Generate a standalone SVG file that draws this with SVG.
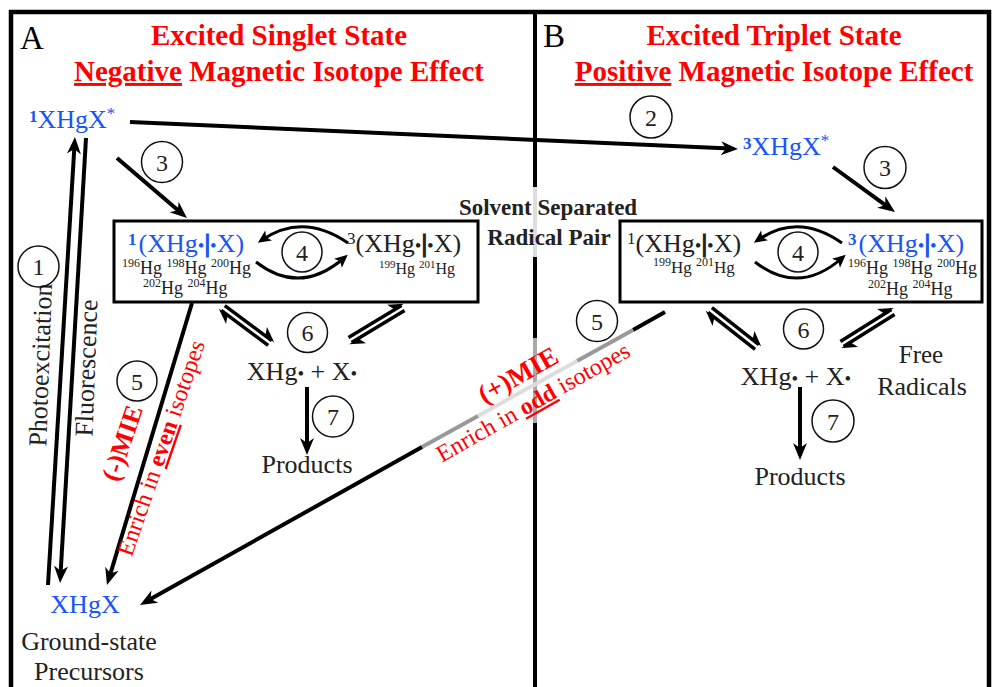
<svg xmlns="http://www.w3.org/2000/svg" width="992" height="687" viewBox="0 0 992 687">
<style>
.t{font-family:"Liberation Serif","Times New Roman",serif;fill:#222}
.k{fill:#000}
.red{fill:#f00}
.blue{fill:#1a55f5}
.b{font-weight:bold}
.u{text-decoration:underline}
.dot{font-size:19px}
.bar{font-weight:bold;stroke-width:1.1}
.ln{stroke:#000;stroke-width:4;fill:none}
.eq{stroke:#000;stroke-width:3.5;fill:none}
.arc{stroke:#000;stroke-width:3;fill:none}
.box{fill:none;stroke:#000;stroke-width:3}
.num circle{fill:none;stroke:#111;stroke-width:1.5}
.num text{font-family:"Liberation Serif","Times New Roman",serif;font-size:24px;fill:#222;text-anchor:middle}
</style>
<defs>
<marker id="ah" markerUnits="userSpaceOnUse" viewBox="-20 -10 30 20" markerWidth="30" markerHeight="20" refX="0" refY="0" orient="auto">
<path d="M8,0 L-9,-7 L-4,0 L-9,7 Z" fill="#000"/>
</marker>
<marker id="as" markerUnits="userSpaceOnUse" viewBox="-20 -10 30 20" markerWidth="30" markerHeight="20" refX="0" refY="0" orient="auto">
<path d="M5,0 L-8,-6 L-5,0 L-8,6 Z" fill="#000"/>
</marker>
<marker id="hh" markerUnits="userSpaceOnUse" viewBox="-20 -10 30 20" markerWidth="30" markerHeight="20" refX="0" refY="0" orient="auto">
<path d="M3,0 L-12,-8 L-8,0 Z" fill="#000"/>
</marker>
</defs>
<rect width="992" height="687" fill="#fff"/>

<g id="frame">
<path d="M11,687 L11,12 L989,12 L989,687" fill="none" stroke="#000" stroke-width="4.5"/>
<path d="M535,12 V187 M535,257 V338 M535,423 V687" stroke="#000" stroke-width="4" fill="none"/>
<path d="M535,187 V257" stroke="#ddd" stroke-width="4"/>
<path d="M535,338 V423" stroke="#aaa" stroke-width="4"/>
</g>

<g id="header-A">
<text class="t k" x="20" y="49" font-size="33">A</text>
<text class="t red b" x="279" y="45" font-size="29" text-anchor="middle">Excited Singlet State</text>
<text class="t red b" x="279" y="81" font-size="29" text-anchor="middle"><tspan class="u">Negative</tspan> Magnetic Isotope Effect</text>
</g>
<g id="header-B">
<text class="t k" x="543" y="47" font-size="33">B</text>
<text class="t red b" x="774" y="45" font-size="29" text-anchor="middle">Excited Triplet State</text>
<text class="t red b" x="774" y="81" font-size="29" text-anchor="middle"><tspan class="u">Positive</tspan> Magnetic Isotope Effect</text>
</g>

<g id="connectors">
<path class="ln" d="M130,122 L730,148.6" marker-end="url(#ah)"/>
<path class="ln" d="M117,158 L180.9,212.8" marker-end="url(#ah)"/>
<path class="ln" d="M833,167 L888.5,207.3" marker-end="url(#ah)"/>
<path class="ln" d="M48,585 L74.5,145" marker-end="url(#ah)"/>
<path class="ln" d="M86,138 L60.5,575" marker-end="url(#ah)"/>
<path class="ln" d="M192,303 L109.3,577.3" marker-end="url(#ah)"/>
<path class="ln" d="M665,312 L633,330"/>
<path d="M633,330 L577,361" stroke="#999" stroke-width="4"/>
<path d="M577,361 L478,416" stroke="#ddd" stroke-width="4"/>
<path d="M478,416 L422,447" stroke="#999" stroke-width="4"/>
<path class="ln" d="M422,447 L147,601" marker-end="url(#ah)"/>
<path class="ln" d="M307,387 L307,447" marker-end="url(#ah)"/>
<path class="ln" d="M800,387 L800,452" marker-end="url(#ah)"/>
<path class="arc" d="M348,243 Q303,212 262,240" marker-end="url(#as)"/>
<path class="arc" d="M256,262 Q300,296 344,258" marker-end="url(#as)"/>
<path class="arc" d="M842,243 Q798,212 758,240" marker-end="url(#as)"/>
<path class="arc" d="M755,262 Q799,296 842,258" marker-end="url(#as)"/>
<path class="eq" d="M224.8,305.6 L271.8,340.6" marker-end="url(#hh)"/>
<path class="eq" d="M268.2,345.4 L221.2,310.4" marker-end="url(#hh)"/>
<path class="eq" d="M404.6,310.6 L351.6,342.6" marker-end="url(#hh)"/>
<path class="eq" d="M348.5,337.4 L401.5,305.4" marker-end="url(#hh)"/>
<path class="eq" d="M711.9,307.6 L758.9,344.6" marker-end="url(#hh)"/>
<path class="eq" d="M755.1,349.4 L708.1,312.4" marker-end="url(#hh)"/>
<path class="eq" d="M894.6,314.5 L843.6,346.5" marker-end="url(#hh)"/>
<path class="eq" d="M840.4,341.5 L891.4,309.5" marker-end="url(#hh)"/>
</g>

<g id="edge-labels">
<text class="t" transform="translate(40,365) rotate(-88)" x="0" y="9" font-size="26" text-anchor="middle">Photoexcitation</text>
<text class="t" transform="translate(86,368) rotate(-88)" x="0" y="9" font-size="26" text-anchor="middle">Fluorescence</text>
<text class="t red b" transform="translate(122,443) rotate(-71)" x="0" y="9" font-size="26" text-anchor="middle">(-)MIE</text>
<text class="t red" transform="translate(161,448) rotate(-71)" x="0" y="8" font-size="24" text-anchor="middle">Enrich in <tspan class="b u">even</tspan> isotopes</text>
<text class="t red b" transform="translate(518,375) rotate(-29.5)" x="0" y="9" font-size="27" text-anchor="middle">(+)MIE</text>
<text class="t red" transform="translate(533,402) rotate(-29.5)" x="0" y="8" font-size="24" text-anchor="middle">Enrich in <tspan class="b u">odd</tspan> isotopes</text>
</g>

<g id="n-singlet-excited">
<text class="t blue" x="29" y="128" font-size="26"><tspan class="b" font-size="17" dy="-6">1</tspan><tspan dy="6">XHgX</tspan><tspan font-size="17" dy="-9">*</tspan></text>
</g>
<g id="n-triplet-excited">
<text class="t blue" x="743" y="155" font-size="26"><tspan class="b" font-size="17" dy="-6">3</tspan><tspan dy="6">XHgX</tspan><tspan font-size="17" dy="-9">*</tspan></text>
</g>
<g id="n-ground">
<text class="t blue" x="85" y="613" font-size="26" text-anchor="middle">XHgX</text>
<text class="t" x="89" y="650" font-size="26" text-anchor="middle">Ground-state</text>
<text class="t" x="89" y="680" font-size="26" text-anchor="middle">Precursors</text>
</g>

<g id="n-rp-left">
<rect class="box" x="114" y="221" width="364" height="81"/>
<text class="t blue" x="128" y="252" font-size="26"><tspan class="b" font-size="17" dy="-7">1</tspan><tspan dy="7" dx="2">(XHg</tspan><tspan class="dot">•</tspan><tspan class="bar" stroke="#1a55f5">|</tspan><tspan class="dot">•</tspan>X)</text>
<text class="t" x="122" y="274" font-size="18"><tspan font-size="12" dy="-7">196</tspan><tspan dy="7">Hg </tspan><tspan font-size="12" dy="-7">198</tspan><tspan dy="7">Hg </tspan><tspan font-size="12" dy="-7">200</tspan><tspan dy="7">Hg</tspan></text>
<text class="t" x="143" y="294" font-size="18"><tspan font-size="12" dy="-7">202</tspan><tspan dy="7">Hg </tspan><tspan font-size="12" dy="-7">204</tspan><tspan dy="7">Hg</tspan></text>
<text class="t" x="347" y="252" font-size="26"><tspan font-size="17" dy="-8">3</tspan><tspan dy="8">(XHg</tspan><tspan class="dot">•</tspan><tspan class="bar" stroke="#222">|</tspan><tspan class="dot">•</tspan>X)</text>
<text class="t" x="379" y="274" font-size="16"><tspan font-size="11" dy="-6">199</tspan><tspan dy="6">Hg </tspan><tspan font-size="11" dy="-6">201</tspan><tspan dy="6">Hg</tspan></text>
</g>

<g id="n-rp-right">
<rect class="box" x="620" y="221" width="362" height="81"/>
<text class="t" x="627" y="252" font-size="26"><tspan font-size="17" dy="-8">1</tspan><tspan dy="8">(XHg</tspan><tspan class="dot">•</tspan><tspan class="bar" stroke="#222">|</tspan><tspan class="dot">•</tspan>X)</text>
<text class="t" x="653" y="273" font-size="17"><tspan font-size="12" dy="-7">199</tspan><tspan dy="7">Hg </tspan><tspan font-size="12" dy="-7">201</tspan><tspan dy="7">Hg</tspan></text>
<text class="t blue" x="848" y="252" font-size="26"><tspan class="b" font-size="17" dy="-7">3</tspan><tspan dy="7" dx="2">(XHg</tspan><tspan class="dot">•</tspan><tspan class="bar" stroke="#1a55f5">|</tspan><tspan class="dot">•</tspan>X)</text>
<text class="t" x="848" y="274" font-size="18"><tspan font-size="12" dy="-7">196</tspan><tspan dy="7">Hg </tspan><tspan font-size="12" dy="-7">198</tspan><tspan dy="7">Hg </tspan><tspan font-size="12" dy="-7">200</tspan><tspan dy="7">Hg</tspan></text>
<text class="t" x="868" y="295" font-size="18"><tspan font-size="12" dy="-7">202</tspan><tspan dy="7">Hg </tspan><tspan font-size="12" dy="-7">204</tspan><tspan dy="7">Hg</tspan></text>
</g>

<g id="label-ssrp">
<text class="t b" x="548" y="215" font-size="23" text-anchor="middle" fill="#333">Solvent Separated</text>
<text class="t b" x="549" y="245" font-size="23" text-anchor="middle" fill="#333">Radical Pair</text>
</g>

<g id="n-radicals-left">
<text class="t" x="302" y="380" font-size="26" text-anchor="middle">XHg<tspan class="dot">•</tspan> + X<tspan class="dot">•</tspan></text>
</g>
<g id="n-products-left">
<text class="t" x="307" y="473" font-size="26" text-anchor="middle">Products</text>
</g>
<g id="n-radicals-right">
<text class="t" x="796" y="385" font-size="26" text-anchor="middle">XHg<tspan class="dot">•</tspan> + X<tspan class="dot">•</tspan></text>
<text class="t" x="921" y="363" font-size="25" text-anchor="middle">Free</text>
<text class="t" x="922" y="395" font-size="26" text-anchor="middle">Radicals</text>
</g>
<g id="n-products-right">
<text class="t" x="800" y="485" font-size="26" text-anchor="middle">Products</text>
</g>

<g id="steps" class="num">
<g id="step-1"><circle cx="38.5" cy="266.5" r="20.5"/><text x="38.5" y="275">1</text></g>
<g id="step-2"><circle cx="651" cy="117" r="21"/><text x="651" y="125.5">2</text></g>
<g id="step-3a"><circle cx="162" cy="162" r="20.5"/><text x="162" y="170.5">3</text></g>
<g id="step-3b"><circle cx="885" cy="167.5" r="21"/><text x="885" y="176">3</text></g>
<g id="step-4a"><circle cx="302" cy="252" r="20"/><text x="302" y="260.5">4</text></g>
<g id="step-4b"><circle cx="798" cy="252" r="20"/><text x="798" y="260.5">4</text></g>
<g id="step-5a"><circle cx="137" cy="381" r="20"/><text x="137" y="389.5">5</text></g>
<g id="step-5b"><circle cx="597" cy="321" r="20.5"/><text x="597" y="329.5">5</text></g>
<g id="step-6a"><circle cx="307.5" cy="332.5" r="20"/><text x="307.5" y="341">6</text></g>
<g id="step-6b"><circle cx="803.5" cy="329" r="20"/><text x="803.5" y="337.5">6</text></g>
<g id="step-7a"><circle cx="333" cy="416.5" r="20.5"/><text x="333" y="425">7</text></g>
<g id="step-7b"><circle cx="833" cy="421" r="21"/><text x="833" y="429.5">7</text></g>
</g>
</svg>
